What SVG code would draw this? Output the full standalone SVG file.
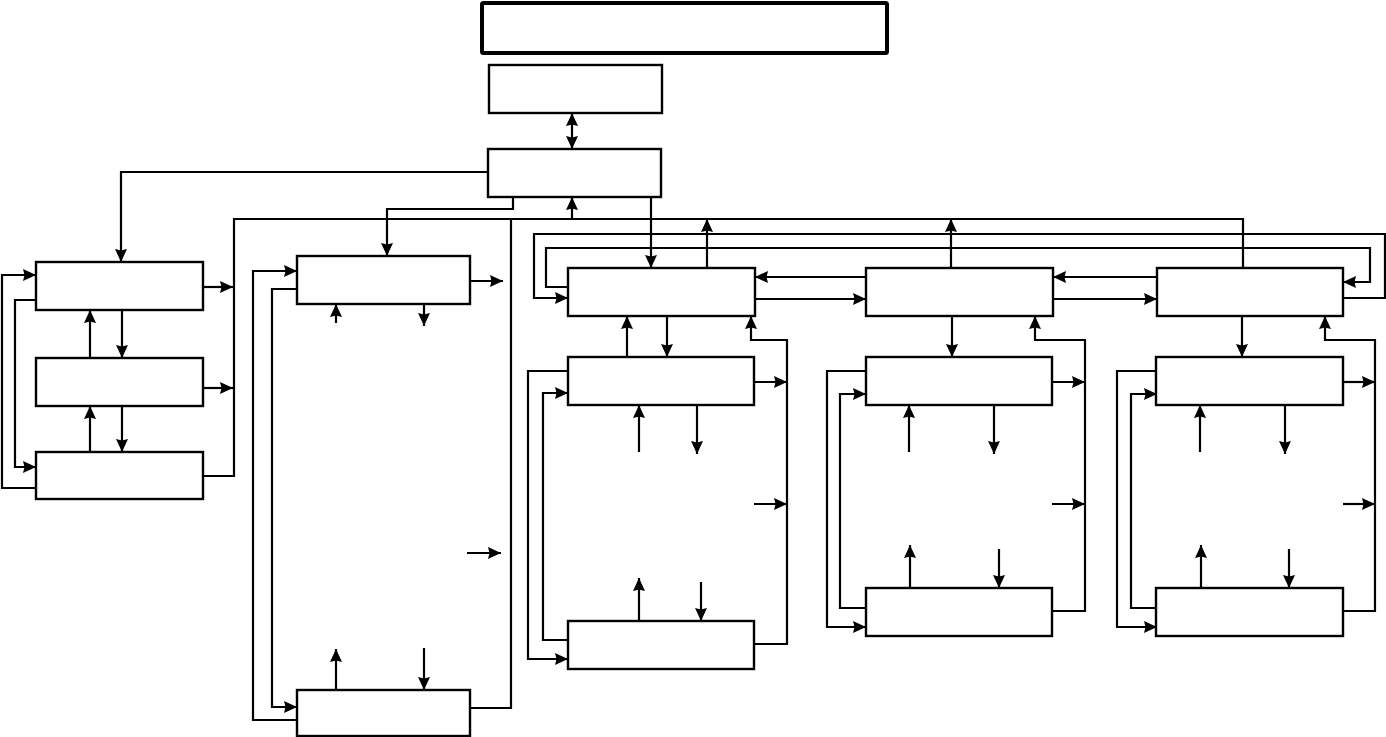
<svg xmlns="http://www.w3.org/2000/svg" width="1386" height="737" viewBox="0 0 1386 737">
<style>
.box{fill:#fff;stroke:#000;stroke-width:2.4}
.title{fill:#fff;stroke:#000;stroke-width:4}
.c{fill:none;stroke:#000;stroke-width:2.2}
.a{fill:none;stroke:#000;stroke-width:2.2;marker-end:url(#ah)}
</style>
<defs>
<marker id="ah" markerUnits="userSpaceOnUse" markerWidth="16" markerHeight="14" refX="13" refY="6" orient="auto-start-reverse" viewBox="0 0 16 14">
<path d="M0,0 L13,6 L0,12 L1.5,6 z" fill="#000"/>
</marker>
</defs>
<rect width="1386" height="737" fill="#fff"/>
<g id="connectors">
<path class="a" d="M488,172 H121 V262"/>
<path class="a" d="M122,310 V358"/>
<path class="a" d="M90,358 V310"/>
<path class="a" d="M122,406 V452"/>
<path class="a" d="M90,452 V406"/>
<path class="a" d="M204,287 H233"/>
<path class="a" d="M204,388 H233"/>
<path class="c" d="M204,476 H234 V219 H1243 V268"/>
<path class="a" d="M36,488 H2 V275 H36"/>
<path class="a" d="M36,300 H15 V467 H36"/>
<path class="a" d="M572,113 V149" marker-start="url(#ah)"/>
<path class="a" d="M572,219 V197"/>
<path class="a" d="M513,197 V209 H387 V256"/>
<path class="a" d="M651,197 V268"/>
<path class="a" d="M470,281 H503"/>
<path class="a" d="M336,323 V304"/>
<path class="a" d="M424,304 V326"/>
<path class="a" d="M336,690 V649"/>
<path class="a" d="M424,648 V690"/>
<path class="a" d="M467,553 H501"/>
<path class="c" d="M470,708 H511 V219"/>
<path class="a" d="M297,720 H253 V271 H297"/>
<path class="a" d="M297,289 H272 V707 H297"/>
<path class="a" d="M707,268 V219"/>
<path class="a" d="M667,316 V357"/>
<path class="a" d="M627,357 V316"/>
<path class="a" d="M866,277 H755"/>
<path class="a" d="M755,299 H866"/>
<path class="a" d="M1157,277 H1053"/>
<path class="a" d="M1053,299 H1157"/>
<path class="a" d="M951,268 V219"/>
<path class="a" d="M952,316 V357"/>
<path class="a" d="M1242,316 V357"/>
<path class="a" d="M1343,298 H1385 V234 H534 V298 H568"/>
<path class="a" d="M568,287 H546 V248 H1370 V282 H1343"/>
<path class="a" d="M639,452 V405"/>
<path class="a" d="M697,405 V454"/>
<path class="a" d="M639,621 V578"/>
<path class="a" d="M701,582 V621"/>
<path class="a" d="M754,644 H787 V340 H751 V316"/>
<path class="a" d="M754,382 H787"/>
<path class="a" d="M754,504 H787"/>
<path class="a" d="M568,371 H528 V659 H568"/>
<path class="a" d="M568,640 H543 V393 H568"/>
<path class="a" d="M909,452 V405"/>
<path class="a" d="M994,405 V454"/>
<path class="a" d="M910,588 V545"/>
<path class="a" d="M999,549 V588"/>
<path class="a" d="M1052,611 H1085 V340 H1035 V316"/>
<path class="a" d="M1052,382 H1085"/>
<path class="a" d="M1052,504 H1085"/>
<path class="a" d="M866,371 H827 V627 H866"/>
<path class="a" d="M866,608 H840 V394 H866"/>
<path class="a" d="M1200,452 V405"/>
<path class="a" d="M1285,405 V454"/>
<path class="a" d="M1201,588 V545"/>
<path class="a" d="M1289,549 V588"/>
<path class="a" d="M1343,611 H1375 V340 H1325 V316"/>
<path class="a" d="M1343,382 H1375"/>
<path class="a" d="M1343,504 H1375"/>
<path class="a" d="M1157,371 H1117 V627 H1157"/>
<path class="a" d="M1157,608 H1131 V394 H1157"/>
</g>
<g id="title"><rect class="title" x="482" y="3" width="405" height="50" rx="1.5"/></g>
<g id="A"><rect class="box" x="489" y="65" width="173" height="48"/></g>
<g id="B"><rect class="box" x="488" y="149" width="173" height="48"/></g>
<g id="L1"><rect class="box" x="36" y="262" width="167" height="48"/></g>
<g id="L2"><rect class="box" x="36" y="358" width="167" height="48"/></g>
<g id="L3"><rect class="box" x="36" y="452" width="167" height="47"/></g>
<g id="M1"><rect class="box" x="297" y="256" width="173" height="48"/></g>
<g id="M2"><rect class="box" x="297" y="690" width="173" height="46"/></g>
<g id="C1"><rect class="box" x="568" y="268" width="187" height="48"/></g>
<g id="D1"><rect class="box" x="568" y="357" width="186" height="48"/></g>
<g id="E1"><rect class="box" x="568" y="621" width="186" height="48"/></g>
<g id="C2"><rect class="box" x="866" y="268" width="187" height="48"/></g>
<g id="D2"><rect class="box" x="866" y="357" width="186" height="48"/></g>
<g id="E2"><rect class="box" x="866" y="588" width="186" height="48"/></g>
<g id="C3"><rect class="box" x="1157" y="268" width="186" height="48"/></g>
<g id="D3"><rect class="box" x="1156" y="357" width="187" height="48"/></g>
<g id="E3"><rect class="box" x="1156" y="588" width="187" height="48"/></g>
</svg>
